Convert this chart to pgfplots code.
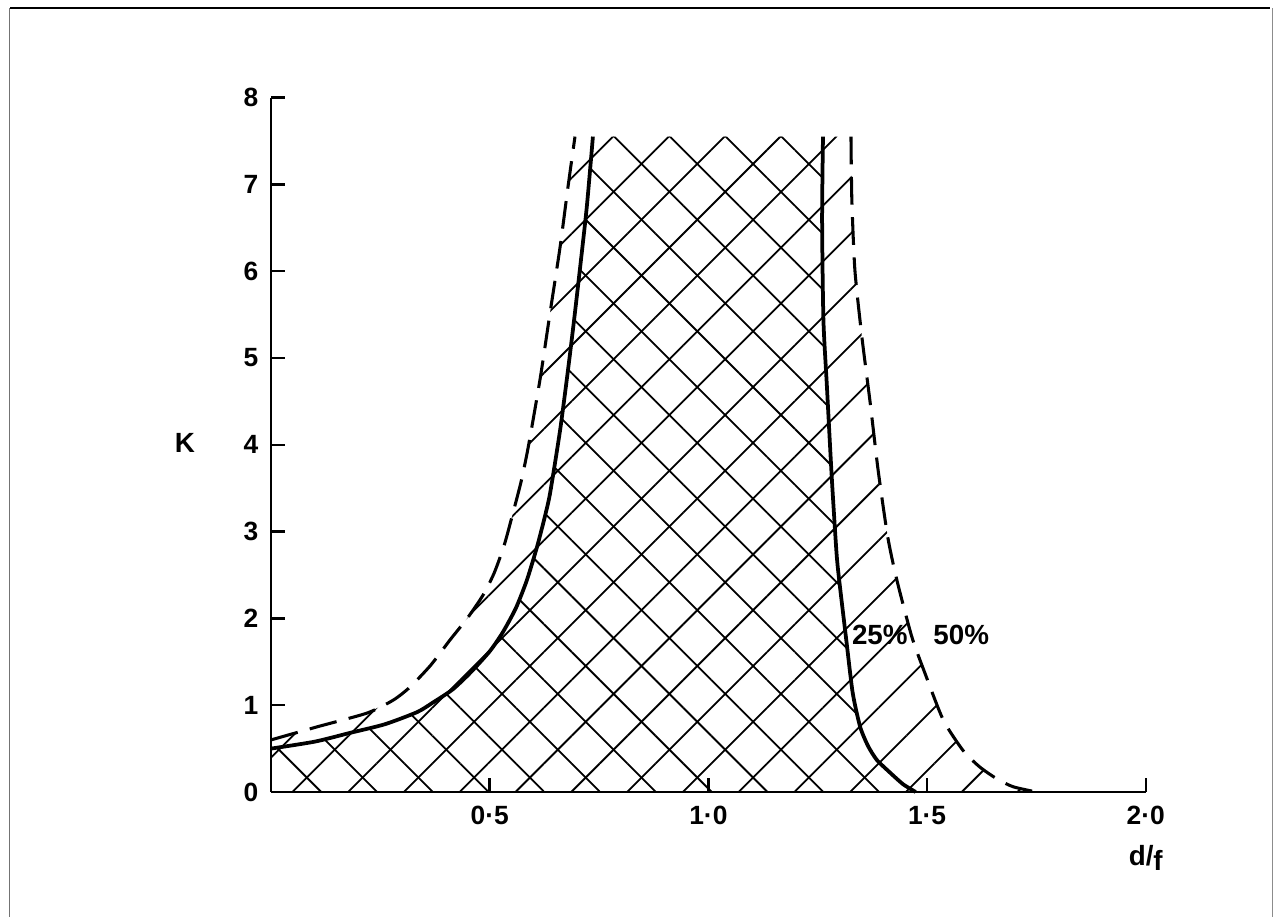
\documentclass[border=0pt]{standalone}
\usepackage{fontspec}
\setmainfont{Liberation Sans}
\usepackage{pgfplots}
\pgfplotsset{compat=1.18}
\usepackage{pgfplotstable}
\usetikzlibrary{patterns.meta}

% 25% curve: left branch, break, right branch
\pgfplotstableread{
x y
0 0.50
0.10 0.58
0.18 0.68
0.26 0.78
0.334 0.92
0.37 1.03
0.415 1.18
0.455 1.37
0.50 1.62
0.53 1.84
0.56 2.12
0.585 2.44
0.608 2.82
0.625 3.15
0.638 3.44
0.661 4.17
0.679 4.86
0.693 5.44
0.706 6.01
0.722 6.74
0.736 7.55
nan nan
1.262 7.55
1.260 6.59
1.263 5.44
1.271 4.67
1.282 3.63
1.293 2.75
1.300 2.40
1.316 1.72
1.330 1.14
1.347 0.75
1.365 0.53
1.385 0.37
1.416 0.22
1.445 0.09
1.474 0
}\solidcurve

% 50% curve
\pgfplotstableread{
x y
0 0.60
0.105 0.75
0.22 0.91
0.28 1.06
0.318 1.21
0.365 1.46
0.409 1.75
0.45 2.01
0.485 2.27
0.51 2.52
0.533 2.84
0.553 3.21
0.572 3.58
0.588 3.97
0.615 4.75
0.638 5.52
0.661 6.28
0.679 6.97
0.695 7.55
nan nan
1.326 7.55
1.328 6.82
1.335 6.01
1.351 5.24
1.370 4.48
1.388 3.71
1.410 2.94
1.431 2.44
1.465 1.79
1.495 1.37
1.537 0.83
1.582 0.48
1.620 0.29
1.660 0.15
1.697 0.06
1.750 0
}\dashedcurve

\begin{document}
\begin{tikzpicture}
\useasboundingbox (0,0) rectangle (459pt,330.12pt);
% sheet edges
\draw[line width=0.9pt] (3.6pt,327.2pt) -- (457.2pt,327.2pt);
\draw[line width=0.3pt, black!55] (3.3pt,327.2pt) -- (3.3pt,0pt);
\draw[line width=0.3pt, black!45] (457.9pt,327.2pt) -- (457.9pt,0pt);

\begin{axis}[
  at={(97.56pt,45pt)}, anchor=south west,
  x=157.46pt, y=31.25pt,
  xmin=0, xmax=2, ymin=0, ymax=8,
  enlargelimits=false,
  axis lines*=left,
  axis line style={line width=1pt},
  clip=false,
  axis on top,
  tick align=inside,
  major tick length=5pt,
  every tick/.style={line width=0.9pt, black},
  xtick={0.5,1,1.5,2},
  xticklabels={0·5,1·0,1·5,2·0},
  ytick={0,1,2,3,4,5,6,7,8},
  yticklabels={0,1,2,3,4,5,6,7,8},
  every tick label/.append style={font=\bfseries\fontsize{9.5}{10}\selectfont},
  xticklabel style={yshift=-1.5pt},
  yticklabel style={xshift=-1pt},
]
% single hatching under the 50% curve
\addplot[draw=none, sharp plot, unbounded coords=discard,
  pattern={Lines[angle=45, distance=14.2pt, line width=0.65pt]}]
  table {\dashedcurve} \closedcycle;
% cross hatching under the 25% curve
\addplot[draw=none, sharp plot, unbounded coords=discard,
  pattern={Lines[angle=-45, distance=14.2pt, line width=0.65pt]}]
  table {\solidcurve} \closedcycle;
% the two curves
\addplot[black, line width=1.35pt, smooth, tension=0.4, unbounded coords=jump]
  table {\solidcurve};
\addplot[black, line width=1.1pt, smooth, tension=0.4, unbounded coords=jump,
  dash pattern=on 10pt off 4.5pt]
  table {\dashedcurve};

\node[font=\bfseries\fontsize{10}{10}\selectfont] at (axis cs:1.392,1.81) {25\%};
\node[font=\bfseries\fontsize{10}{10}\selectfont] at (axis cs:1.578,1.81) {50\%};
\node[font=\bfseries\fontsize{10}{10}\selectfont] at (axis cs:-0.197,4.02) {K};
\node[font=\bfseries\fontsize{10}{10}\selectfont] at (axis cs:2.0,-0.76) {d/\raisebox{-0.35ex}{f}};
\end{axis}
\end{tikzpicture}
\end{document}
